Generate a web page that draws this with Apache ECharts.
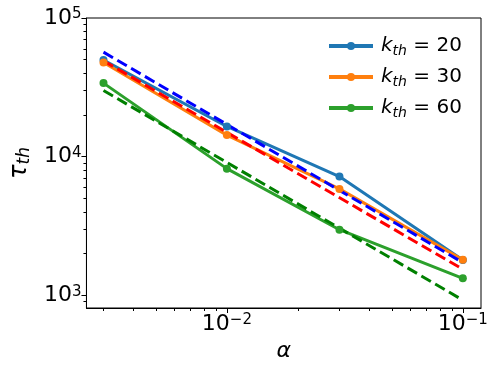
<!DOCTYPE html>
<html>
<head>
<meta charset="utf-8">
<script src="https://cdn.jsdelivr.net/npm/echarts@6/dist/echarts.min.js"></script>
<style>
  html, body { margin: 0; padding: 0; background: #fff; }
  #main { width: 498px; height: 374px; }
</style>
</head>
<body>
<div id="main"></div>
<script>
// alpha values on x
var alphas = [0.003, 0.01, 0.03, 0.1];
// tau_th measured, one list per k_th
var tau20 = [49700, 16500, 7180, 1795];
var tau30 = [47800, 14300, 5850, 1800];
var tau60 = [33900, 8190, 2970, 1325];
// dashed fit lines (end points)
var fitX = [0.003, 0.1];
var fit20 = [56700, 1720];
var fit30 = [49100, 1540];
var fit60 = [30000, 922];
// ticks
var xMajor = [0.01, 0.1];
var xMinor = [0.003, 0.004, 0.005, 0.006, 0.007, 0.008, 0.009,
              0.02, 0.03, 0.04, 0.05, 0.06, 0.07, 0.08, 0.09];
var yMajor = [1000, 10000, 100000];
var yMinor = [900, 2000, 3000, 4000, 5000, 6000, 7000, 8000, 9000,
              20000, 30000, 40000, 50000, 60000, 70000, 80000, 90000];
var names = ['20', '30', '60'];

function pairs(xs, ys) {
    var out = [];
    for (var i = 0; i < xs.length; i++) out.push([xs[i], ys[i]]);
    return out;
}

function powLabel(v) {
    var e = Math.round(Math.log10(v));
    return '10{sup|' + (e < 0 ? '\u2212' : '') + Math.abs(e) + '}';
}

var FONT = 'DejaVu Sans';
var tickRich = {
    sup: {fontFamily: FONT, fontSize: 15, verticalAlign: 'top', lineHeight: 14, color: '#000'}
};

var chart = echarts.init(document.getElementById('main'));

function solid(name, data, color) {
    return {
        name: name, type: 'line', data: data,
        xAxisIndex: 0, yAxisIndex: 0,
        symbol: 'circle', symbolSize: 8, showSymbol: true,
        lineStyle: {color: color, width: 3},
        itemStyle: {color: color},
        emphasis: {disabled: true}
    };
}
function dashed(data, color) {
    return {
        type: 'line', data: data,
        xAxisIndex: 0, yAxisIndex: 0,
        symbol: 'none',
        lineStyle: {color: color, width: 3, type: [11, 5]},
        emphasis: {disabled: true}
    };
}

var axisBase = {
    axisLine: {show: true, lineStyle: {color: '#000', width: 1}},
    splitLine: {show: false}
};

option = {
    animation: false,
    grid: {left: 82, right: 17, top: 18, bottom: 66, show: true, borderColor: '#000', borderWidth: 1},
    legend: {
        orient: 'vertical', left: 322, top: 31,
        itemWidth: 44, itemHeight: 10, itemGap: 9,
        data: ['20', '30', '60'],
        lineStyle: {width: 4},
        formatter: function (n) {
            return '{it|k}{sub|th}{n| = ' + n + '}';
        },
        textStyle: {
            color: '#000',
            rich: {
                it: {fontFamily: FONT, fontStyle: 'italic', fontSize: 20, lineHeight: 24, padding: [0, 0, 0, 3], color: '#000'},
                sub: {fontFamily: FONT, fontStyle: 'italic', fontSize: 14, verticalAlign: 'bottom', lineHeight: 14, color: '#000'},
                n: {fontFamily: FONT, fontSize: 20, lineHeight: 24, color: '#000'}
            }
        }
    },
    xAxis: [
        Object.assign({}, axisBase, {
            type: 'log', logBase: 10, min: 0.00254, max: 0.1194,
            name: '{a|\u03b1}', nameLocation: 'middle', nameGap: 30,
            nameTextStyle: {rich: {a: {fontFamily: FONT, fontStyle: 'italic', fontSize: 22, color: '#000'}}},
            axisTick: {show: true, length: 5, customValues: xMajor, lineStyle: {color: '#000'}},
            axisLabel: {show: true, customValues: xMajor, margin: 5, formatter: powLabel,
                fontFamily: FONT, fontSize: 22, color: '#000', rich: tickRich}
        }),
        {
            type: 'log', logBase: 10, min: 0.00254, max: 0.1194, position: 'bottom',
            axisLine: {show: false}, splitLine: {show: false}, axisLabel: {show: false},
            axisTick: {show: true, length: 3, customValues: xMinor, lineStyle: {color: '#000'}}
        }
    ],
    yAxis: [
        Object.assign({}, axisBase, {
            type: 'log', logBase: 10, min: 809, max: 100000,
            name: '{t|\u03c4}{s|th}', nameLocation: 'middle', nameGap: 46,
            nameTextStyle: {rich: {
                t: {fontFamily: FONT, fontStyle: 'italic', fontSize: 24, lineHeight: 26, color: '#000'},
                s: {fontFamily: FONT, fontStyle: 'italic', fontSize: 17, verticalAlign: 'bottom', lineHeight: 16, color: '#000'}
            }},
            axisTick: {show: true, length: 5, customValues: yMajor, lineStyle: {color: '#000'}},
            axisLabel: {show: true, customValues: yMajor, margin: 5, formatter: powLabel,
                fontFamily: FONT, fontSize: 22, color: '#000', rich: tickRich}
        }),
        {
            type: 'log', logBase: 10, min: 809, max: 100000, position: 'left',
            axisLine: {show: false}, splitLine: {show: false}, axisLabel: {show: false},
            axisTick: {show: true, length: 3, customValues: yMinor, lineStyle: {color: '#000'}}
        }
    ],
    series: [
        solid(names[0], pairs(alphas, tau20), '#1f77b4'),
        solid(names[1], pairs(alphas, tau30), '#ff7f0e'),
        solid(names[2], pairs(alphas, tau60), '#2ca02c'),
        dashed(pairs(fitX, fit20), '#0000ff'),
        dashed(pairs(fitX, fit30), '#ff0000'),
        dashed(pairs(fitX, fit60), '#008000')
    ]
};

chart.setOption(option);
</script>
</body>
</html>
